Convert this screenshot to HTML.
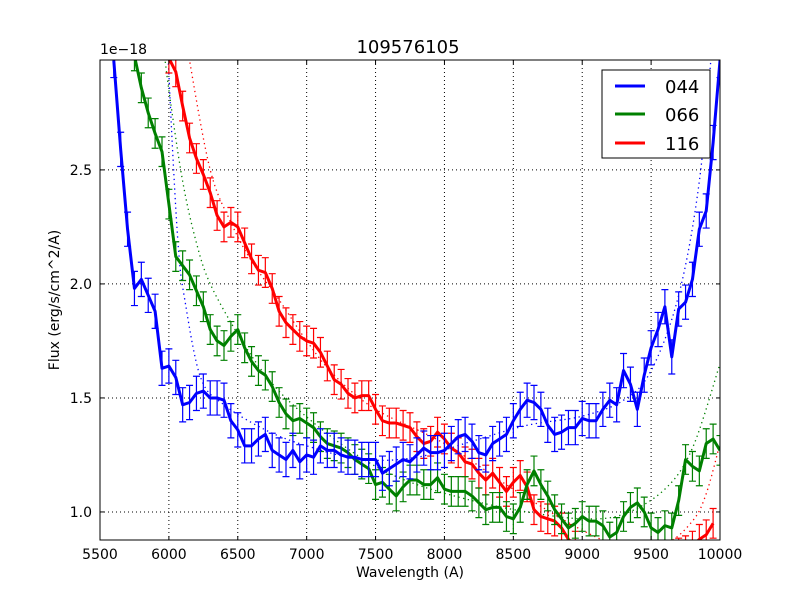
<!DOCTYPE html>
<html><head><meta charset="utf-8"><style>
body{margin:0;background:#fff;}
svg{display:block;font-family:"DejaVu Sans","Liberation Sans",sans-serif;}
</style></head><body>
<svg id="chart" width="800" height="600" viewBox="0 0 800 600">
<rect width="800" height="600" fill="#fff"/>
<defs><clipPath id="pc"><rect x="100" y="60" width="620" height="480"/></clipPath></defs>
<g id="grid"></g>
<g id="fits" clip-path="url(#pc)"></g>
<g id="series" clip-path="url(#pc)"></g>
<rect x="100" y="60" width="620" height="480" fill="none" stroke="#000" stroke-width="1"/>
<g id="ticks"></g>
<text x="408" y="53" font-size="18" text-anchor="middle">109576105</text>
<text x="100" y="54" font-size="14">1e−18</text>
<text x="410" y="577" font-size="14" text-anchor="middle">Wavelength (A)</text>
<text x="59" y="300" font-size="14" text-anchor="middle" transform="rotate(-90 59 300)">Flux (erg/s/cm^2/A)</text>
<g>
<rect x="602" y="70" width="108" height="88" fill="#fff" stroke="#000" stroke-width="1"/>
<line x1="615" y1="86" x2="645" y2="86" stroke="#0000ff" stroke-width="3"/>
<text x="665" y="93" font-size="18">044</text>
<line x1="615" y1="114" x2="645" y2="114" stroke="#008000" stroke-width="3"/>
<text x="665" y="121" font-size="18">066</text>
<line x1="615" y1="143" x2="645" y2="143" stroke="#ff0000" stroke-width="3"/>
<text x="665" y="150" font-size="18">116</text>
</g>
</svg>
<script>
const xTicks=[5500,6000,6500,7000,7500,8000,8500,9000,9500,10000];
const yTicks=[1.0,1.5,2.0,2.5];
const yTickLabels=["1.0","1.5","2.0","2.5"];
const blueStart=5600;
const blueVals=[2.98,2.59,2.24,1.98,2.02,1.95,1.88,1.63,1.64,1.59,1.47,1.48,1.52,1.53,1.50,1.50,1.49,1.40,1.36,1.29,1.29,1.32,1.34,1.27,1.25,1.23,1.27,1.22,1.25,1.24,1.29,1.27,1.27,1.25,1.24,1.24,1.23,1.23,1.23,1.17,1.19,1.21,1.23,1.22,1.25,1.28,1.26,1.26,1.27,1.30,1.33,1.34,1.31,1.26,1.25,1.30,1.32,1.34,1.40,1.45,1.49,1.48,1.45,1.38,1.34,1.35,1.37,1.37,1.41,1.40,1.40,1.45,1.49,1.47,1.62,1.56,1.45,1.60,1.72,1.80,1.90,1.68,1.89,1.92,2.02,2.24,2.32,2.62,2.98];
const greenStart=5750;
const greenVals=[3.0,2.86,2.75,2.66,2.58,2.35,2.12,2.08,2.04,1.97,1.90,1.80,1.75,1.73,1.77,1.80,1.72,1.66,1.62,1.60,1.55,1.48,1.43,1.40,1.41,1.39,1.37,1.33,1.30,1.29,1.28,1.26,1.23,1.21,1.19,1.12,1.13,1.10,1.07,1.11,1.14,1.14,1.12,1.12,1.15,1.10,1.09,1.09,1.09,1.07,1.04,1.01,1.02,1.02,0.98,0.97,1.02,1.12,1.18,1.12,1.07,1.01,0.97,0.93,0.95,0.98,0.96,0.96,0.94,0.89,0.91,0.98,1.02,1.04,1.00,0.93,0.91,0.94,0.93,1.05,1.23,1.20,1.18,1.30,1.32,1.27];
const redStart=6000;
const redVals=[2.99,2.93,2.78,2.64,2.55,2.48,2.40,2.30,2.25,2.27,2.25,2.18,2.11,2.06,2.05,1.98,1.88,1.83,1.80,1.77,1.75,1.74,1.70,1.64,1.58,1.56,1.52,1.50,1.51,1.51,1.45,1.40,1.39,1.39,1.38,1.37,1.33,1.30,1.31,1.35,1.32,1.28,1.26,1.22,1.21,1.17,1.14,1.17,1.13,1.09,1.13,1.16,1.11,1.01,0.98,0.97,0.96,0.93,0.88,0.85,0.80,0.78,0.76,0.74,0.72,0.72,0.70,0.70,0.71,0.72,0.74,0.76,0.78,0.80,0.82,0.83,0.85,0.88,0.90,0.95];
const errBlue=0.075, errGreen=0.065, errRed=0.065;
const blueFitX=[5990,6030,6070,6110,6230,6400,6700,7000,7400,7800,8200,8600,9000,9300,9500,9700,9850,9950];
const blueFitY=[3.05,2.55,2.15,1.95,1.59,1.47,1.36,1.29,1.23,1.24,1.31,1.38,1.42,1.49,1.62,1.95,2.45,3.1];
const greenFitX=[5950,6000,6100,6200,6300,6500,6700,6900,7200,7500,7800,8200,8600,9000,9300,9600,9800,10000];
const greenFitY=[3.1,2.85,2.45,2.18,2.0,1.78,1.6,1.47,1.32,1.2,1.12,1.05,1.0,0.97,0.99,1.1,1.28,1.65];
const redFitX=[6100,6150,6300,6450,6600,6800,7000,7200,7500,8000,8500,9000,9300,9600,9800,9900,10000];
const redFitY=[3.2,2.98,2.5,2.27,2.1,1.93,1.75,1.6,1.45,1.3,1.1,0.92,0.85,0.86,0.96,1.08,1.3];

const NS="http://www.w3.org/2000/svg";
const X0=100,X1=720,Y0=540,Y1=60,xmin=5500,xmax=10000,ymin=0.877,ymax=2.982;
function sx(v){return X0+(v-xmin)/(xmax-xmin)*(X1-X0);}
function sy(v){return Y0-(v-ymin)/(ymax-ymin)*(Y0-Y1);}
function mk(tag,attrs,parent){const e=document.createElementNS(NS,tag);for(const k in attrs)e.setAttribute(k,attrs[k]);parent.appendChild(e);return e;}
const grid=document.getElementById('grid'),ticks=document.getElementById('ticks'),fits=document.getElementById('fits'),series=document.getElementById('series');
xTicks.forEach(t=>{const x=sx(t);
 if(t>xmin&&t<xmax){const g=mk('line',{x1:x,x2:x,y1:Y1,y2:Y0,stroke:'#000','stroke-dasharray':'1,3','stroke-width':1},grid);
 
 }
 const a=mk('line',{x1:x,x2:x,y1:Y0,y2:Y0-4,stroke:'#000'},ticks);
 
 
 const b=mk('line',{x1:x,x2:x,y1:Y1,y2:Y1+4,stroke:'#000'},ticks);
 
 
 const tx=mk('text',{x:x,y:Y0+19,'font-size':14,'text-anchor':'middle'},ticks);tx.textContent=t;
 
 
});
yTicks.forEach((t,i)=>{const y=sy(t);
 const g=mk('line',{x1:X0,x2:X1,y1:y,y2:y,stroke:'#000','stroke-dasharray':'1,3','stroke-width':1},grid);
 
 
 const a=mk('line',{x1:X0,x2:X0+4,y1:y,y2:y,stroke:'#000'},ticks);
 
 
 const b=mk('line',{x1:X1,x2:X1-4,y1:y,y2:y,stroke:'#000'},ticks);
 
 
 const tx=mk('text',{x:X0-8,y:y+5,'font-size':14,'text-anchor':'end'},ticks);tx.textContent=yTickLabels[i];
 
 
});
function smooth(xs,ys){const p=xs.map((x,i)=>[sx(x),sy(ys[i])]);let d='M'+p[0][0]+','+p[0][1];
 for(let i=0;i<p.length-1;i++){const p0=p[i-1]||p[i],p1=p[i],p2=p[i+1],p3=p[i+2]||p2;
 d+=' C'+(p1[0]+(p2[0]-p0[0])/6)+','+(p1[1]+(p2[1]-p0[1])/6)+' '+(p2[0]-(p3[0]-p1[0])/6)+','+(p2[1]-(p3[1]-p1[1])/6)+' '+p2[0]+','+p2[1];}return d;}
[[blueFitX,blueFitY,'#0000ff','fit-044'],[greenFitX,greenFitY,'#008000','fit-066'],[redFitX,redFitY,'#ff0000','fit-116']].forEach(s=>{
 const p=mk('path',{d:smooth(s[0],s[1]),fill:'none',stroke:s[2],'stroke-width':1.3,'stroke-dasharray':'1.3,3.5'},fits);
 
 
});
[[redStart,redVals,errRed,'#ff0000','series-116'],[greenStart,greenVals,errGreen,'#008000','series-066'],[blueStart,blueVals,errBlue,'#0000ff','series-044']].forEach(s=>{
 const g=mk('g',{},series);
 
 
 let d='';
 s[1].forEach((v,i)=>{const w=s[0]+50*i,x=sx(w);
  const e=mk('path',{d:`M${x},${sy(v-s[2])}V${sy(v+s[2])}M${x-3.5},${sy(v-s[2])}h7M${x-3.5},${sy(v+s[2])}h7`,stroke:s[3],'stroke-width':1.2,fill:'none'},g);
  
  
  d+=(i?'L':'M')+x+','+sy(v);});
 const l=mk('path',{d:d,fill:'none',stroke:s[3],'stroke-width':3,'stroke-linejoin':'round'},g);
 
 
});
</script>
</body></html>
